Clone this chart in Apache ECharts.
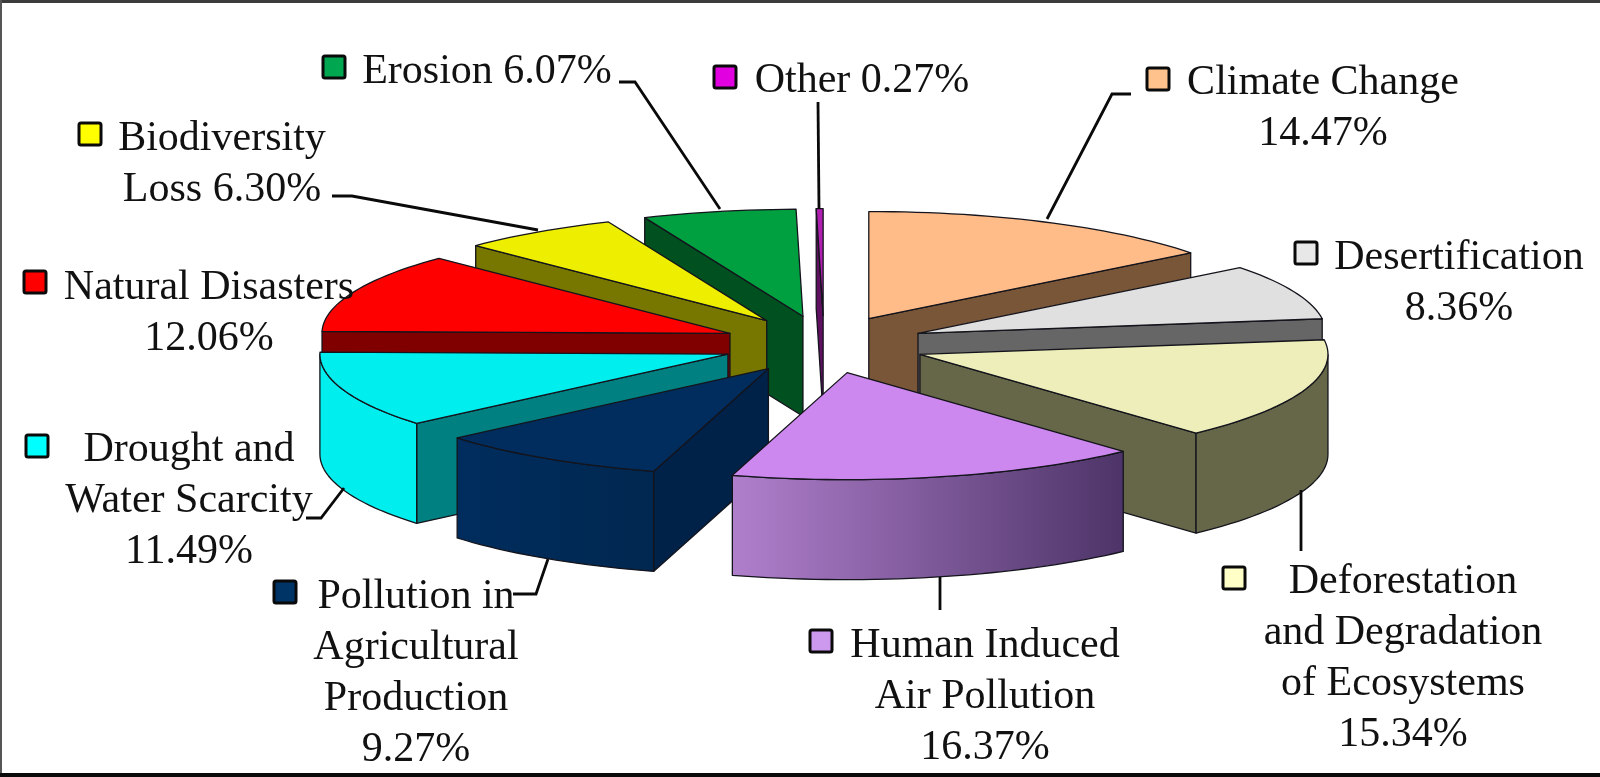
<!DOCTYPE html>
<html>
<head>
<meta charset="utf-8">
<style>html,body{margin:0;padding:0;background:#fff}#chart{width:1600px;height:777px;filter:blur(0.5px)}</style>
<script src="https://cdn.jsdelivr.net/npm/echarts@6/dist/echarts.min.js"></script>
</head>
<body>
<div id="chart"></div>
<script>
// --- Data, clockwise from 12 o'clock ---
const categories = ["Climate Change\n","Desertification\n","Deforestation\nand Degradation\nof Ecosystems\n","Human Induced\nAir Pollution\n","Pollution in\nAgricultural\nProduction\n","Drought and\nWater Scarcity\n","Natural Disasters\n","Biodiversity\nLoss ","Erosion ","Other "];
const shares = [14.47,8.36,15.34,16.37,9.27,11.49,12.06,6.30,6.07,0.27];

// --- Styling ---
const topColors  = ["#FFBB88","#E0E0E0","#EEEEBB","#CC88EE","#002D5E","#00EEEE","#FF0000","#EEEE00","#00A040","#B020B0"];
const faceColors = ["#7A5638","#666666","#666648","#66507A","#002148","#008080","#800000","#777700","#005020","#601060"];
const wallStart  = ["#7A5638","#666666","#666648","#B07FCC","#002D5E","#00EEEE","#800000","#777700","#005020","#601060"];
const wallEnd    = ["#7A5638","#666666","#666648","#4D3468","#00274F","#00EEEE","#800000","#777700","#005020","#601060"];
const keyColors  = ["#FFC28C","#E8E8E8","#FFFFC8","#CC99EE","#003366","#00FFFF","#FF0000","#FFFF00","#00A650","#E000E0"];

// Layout in reference pixels
const cx = 824, cy = 344.5, rx = 408, ry = 107, depth = 100, explodeX = 0.25, explodeY = 0.27;
const lineHeight = 51, fontSize = 42;
const labelX   = [1323,1459,1403,985,416,189,209,222,487,862];
const labelY   = [83,258,582,646,597,450,288,139,72,81];
const keyX     = [1158,1306,1234,821,285,37,35,90,334,725];
const keyY     = [79,253,578,641,592,446,282,134,67,77];
const leaders  = [
  [[1131,94],[1112,94],[1047,219]],
  [],
  [[1301,490],[1301,551]],
  [[940,577],[940,610]],
  [[513,594],[536,594],[548,559]],
  [[306,518],[321,518],[344,488]],
  [],
  [[332,196],[352,196],[538,230]],
  [[619,82],[635,82],[720,209]],
  [[818,102],[819,209]]
];

const total = shares.reduce((a,b)=>a+b,0);
let acc = 0;
const slices = shares.map((v,i)=>{
  const a0 = acc/total*2*Math.PI; acc += v;
  const a1 = acc/total*2*Math.PI;
  const mid = (a0+a1)/2;
  return {a0,a1,ax:cx+explodeX*rx*Math.sin(mid),ay:cy-explodeY*ry*Math.cos(mid),i};
});
const rank = slices.slice().sort((p,q)=>p.ay-q.ay).map(s=>s.i);

function rimPoint(s,a,drop){return [s.ax+rx*Math.sin(a),s.ay-ry*Math.cos(a)+(drop||0)];}
function arc(s,a0,a1,drop){
  const n = Math.max(2,Math.ceil((a1-a0)/0.03)), out=[];
  for(let k=0;k<=n;k++) out.push(rimPoint(s,a0+(a1-a0)*k/n,drop));
  return out;
}
function poly(points,fill,z2){
  return {type:'polygon',shape:{points},z2,silent:true,
    style:{fill,stroke:'#14141c',lineWidth:1.3,lineJoin:'round'}};
}
function face(s,a,fill,z2){
  const p=rimPoint(s,a),q=rimPoint(s,a,depth);
  return poly([[s.ax,s.ay],p,q,[s.ax,s.ay+depth]],fill,z2);
}
function renderSlice(params){
  const s = slices[params.dataIndex], i=s.i;
  const base = rank.indexOf(i)*10+10;
  const children=[];
  if(Math.sin(s.a1)>0.001) children.push(face(s,s.a1,faceColors[i],base));
  if(Math.sin(s.a0)<-0.001) children.push(face(s,s.a0,faceColors[i],base));
  const w0=Math.max(s.a0,Math.PI/2), w1=Math.min(s.a1,Math.PI*1.5);
  if(w1>w0){
    const upper=arc(s,w0,w1), lower=arc(s,w0,w1,depth).reverse();
    const xs=upper.map(p=>p[0]), minX=Math.min(...xs), maxX=Math.max(...xs);
    const grad=new echarts.graphic.LinearGradient(minX,0,maxX,0,
      [{offset:0,color:wallStart[i]},{offset:1,color:wallEnd[i]}],true);
    children.push(poly(upper.concat(lower),grad,base+1));
  }
  children.push(poly([[s.ax,s.ay]].concat(arc(s,s.a0,s.a1)),topColors[i],base+2));
  return {type:'group',children};
}

const graphics=[
  {type:'rect',shape:{x:0,y:0,width:1600,height:3},style:{fill:'#3c3c3c'}},
  {type:'rect',shape:{x:0,y:0,width:2,height:777},style:{fill:'#555555'}},
  {type:'rect',shape:{x:0,y:773,width:1600,height:4},style:{fill:'#0a0a0a'}}
];
categories.forEach((name,i)=>{
  const lines=(name+shares[i].toFixed(2)+'%').split('\n');
  lines.forEach((t,k)=>graphics.push({type:'text',z:5,silent:true,
    style:{text:t,x:labelX[i],y:labelY[i]+k*lineHeight,align:'center',verticalAlign:'middle',
      font:fontSize+'px "Liberation Serif"',fill:'#111111'}}));
  graphics.push({type:'rect',z:5,silent:true,shape:{x:keyX[i]-11,y:keyY[i]-11,width:22,height:22,r:2},
    style:{fill:keyColors[i],stroke:'#0a0a0a',lineWidth:3}});
  if(leaders[i].length) graphics.push({type:'polyline',z:5,silent:true,shape:{points:leaders[i]},
    style:{fill:null,stroke:'#0a0a0a',lineWidth:2.8}});
});

const chart=echarts.init(document.getElementById('chart'),null,{renderer:'canvas'});
chart.setOption({
  animation:false,
  backgroundColor:'#ffffff',
  graphic:graphics,
  series:[{type:'custom',coordinateSystem:'none',data:shares,renderItem:renderSlice,silent:true}]
});
</script>
</body>
</html>
